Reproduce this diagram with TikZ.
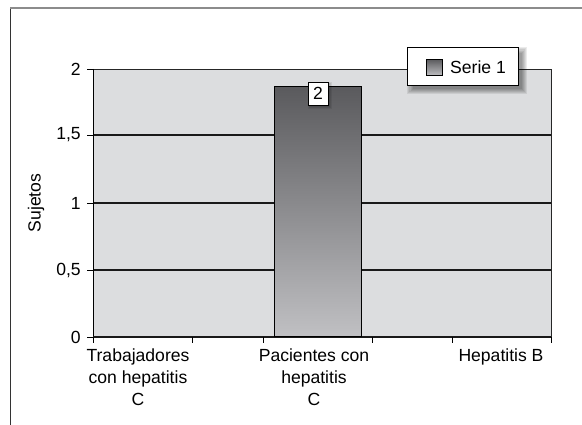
\documentclass[tikz,border=0pt]{standalone}
\usepackage{fontspec}
\setmainfont{Liberation Sans}

\definecolor{plotgray}{HTML}{DCDDDF}
\definecolor{bartop}{HTML}{5A5A5D}
\definecolor{barbot}{HTML}{C0C0C3}

\tikzset{
  boxshadow/.style={black, opacity=0.08}
}

\begin{document}
\begin{tikzpicture}[x=0.03cm, y=-0.03cm, font=\fontsize{15}{18.5}\selectfont]
  \useasboundingbox (0,0) rectangle (582,425);

  %% outer frame (only top and left are seen)
  \coordinate (f0) at (10,425);
  \coordinate (f1) at (10,8);
  \coordinate (f2) at (582,8);
  \draw[black!80, line width=0.6pt] (f0) -- (f1);
  \draw[black!45, line width=1.4pt] (f1) -- (f2);

  %% plot area
  \coordinate (o)  at (93,337);
  \coordinate (tl) at (93,69);
  \coordinate (tr) at (551,69);
  \coordinate (br) at (551,337);
  \fill[plotgray] (o) rectangle (tr);
  \draw[black!85, line width=0.5pt] (tl) -- (tr) -- (br);

  %% grid lines
  \coordinate (g1l) at (93,135);  \coordinate (g1r) at (551,135);
  \coordinate (g2l) at (93,203);  \coordinate (g2r) at (551,203);
  \coordinate (g3l) at (93,270);  \coordinate (g3r) at (551,270);
  \draw[black!90, line width=1.1pt] (g1l) -- (g1r);
  \draw[black!90, line width=1.1pt] (g2l) -- (g2r);
  \draw[black!90, line width=1.1pt] (g3l) -- (g3r);

  %% axes
  \draw[black, line width=0.6pt] (tl) -- (o);
  \draw[black!90, line width=1pt] (o) -- (br);

  %% y ticks and labels
  \foreach \y/\lab [count=\i] in {337/0, 270/{0,5}, 203/1, 135/{1,5}, 69/2} {
    \coordinate (yt\i) at (87,\y);
    \draw[black, line width=0.5pt] (yt\i) -- (93,\y);
    \node (yl\i) at (81,\y) [anchor=east, inner sep=0pt] {\lab};
  }

  %% x ticks
  \foreach \x [count=\i] in {93,192,263,372,452,551} {
    \coordinate (xt\i) at (\x,337);
    \draw[black, line width=0.5pt] (xt\i) -- (\x,343);
  }

  %% the bar
  \node (bar) at (317.5,337) [anchor=south, draw=black, line width=0.6pt,
    top color=bartop, bottom color=barbot, inner sep=0pt,
    minimum width=2.61cm, minimum height=7.5cm] {};
  \coordinate (v1) at (308,82);
  \coordinate (v2) at (328,105);
  \foreach \s in {0,...,2}
    \fill[boxshadow] ([xshift=(1-\s*0.5)*1pt, yshift=(-1+\s*0.5)*1pt]v1) rectangle ([xshift=(2+\s*0.5)*1pt, yshift=(-2-\s*0.5)*1pt]v2);
  \node (val) at (318,93.5) [draw, fill=white, line width=0.7pt, inner sep=0pt,
    minimum width=0.6cm, minimum height=0.69cm] {2};

  %% category labels
  \node (c1) at (138,349) [anchor=north, align=center, inner sep=0pt] {Trabajadores\\con hepatitis\\C};
  \node (c2) at (314,349) [anchor=north, align=center, inner sep=0pt] {Pacientes con\\hepatitis\\C};
  \node (c3) at (501,349) [anchor=north, align=center, inner sep=0pt] {Hepatitis B};

  %% axis title
  \node (tit) at (36,203) [rotate=90, inner sep=0pt] {Sujetos};

  %% legend with a soft shadow
  \coordinate (l1) at (407,47);
  \coordinate (l2) at (518,85);
  \foreach \s in {0,...,5}
    \fill[boxshadow] ([xshift=(5-\s)*1pt, yshift=(-5+\s)*1pt]l1) rectangle ([xshift=(3+\s)*1pt, yshift=(-3-\s)*1pt]l2);
  \node (leg) at (462.5,66) [draw, fill=white, line width=0.8pt,
    minimum width=3.33cm, minimum height=1.14cm] {};
  \node (key) at (434.5,67.5) [draw, line width=0.6pt, top color=bartop, bottom color=barbot,
    inner sep=0pt, minimum size=0.5cm] {};
  \node (ser) at (450,67) [anchor=west, inner sep=0pt] {Serie 1};
\end{tikzpicture}
\end{document}
